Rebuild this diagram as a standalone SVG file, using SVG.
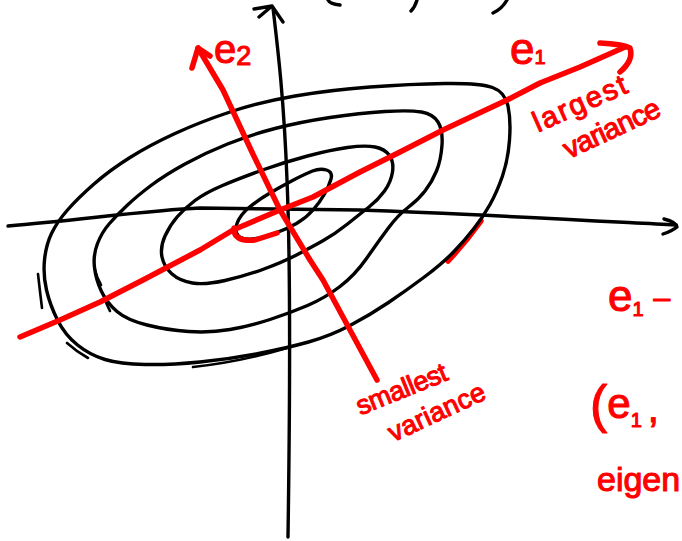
<svg xmlns="http://www.w3.org/2000/svg" width="682" height="541" viewBox="0 0 682 541">
<style>
.ink{fill:none;stroke:#000;stroke-width:3.4;stroke-linecap:round;stroke-linejoin:round}
.thin{fill:none;stroke:#000;stroke-width:2.6;stroke-linecap:round;stroke-linejoin:round}
.red{fill:none;stroke:#ff0000;stroke-width:5.5;stroke-linecap:round;stroke-linejoin:round}
.lbl{fill:#ff0000;stroke:#ff0000;stroke-width:1.1;stroke-linejoin:round;font-family:"Liberation Sans","DejaVu Sans",sans-serif}
</style>
<rect width="682" height="541" fill="#fff"/>
<g id="top-fragments">
<path class="ink" d="M328,0 Q330,4 340,5"/>
<path class="ink" d="M417,0 Q415,7 411,11"/>
<path class="ink" d="M507,0 Q502,9 493,13"/>
</g>
<path id="red-mark" class="red" d="M481,221 Q466,242 448,261"/>
<g id="axes">
<path class="ink" d="M8,226 C80,220 150,210 200,208 L360,210 C450,213 560,219 676,225"/>
<path class="ink" d="M664,219 Q676,222 677,227 Q672,231 663,234"/>
<path class="ink" d="M288,537 C290,400 290,250 287,180 C284,100 278,50 273,8"/>
<path class="ink" d="M259,17 L272,6 L283,22 M254,9 L272,6"/>
</g>
<g id="contours">
<path id="outer" class="ink" d="M230,112 Q260,102 295,96 Q330,90 370,87 Q410,84 445,83.5 Q480,83 492.5,87.5 Q505,92 508,106 Q511,120 509.5,140 Q508,160 502.5,176 Q497,192 490,204.5 Q483,217 474,228.5 Q465,240 454,251.5 Q443,263 425,276.5 Q407,290 388.5,302.5 Q370,315 350,325.5 Q330,336 308.5,342 Q287,348 258.5,353.5 Q230,359 200,362 Q170,365 145,364.5 Q120,364 105,359.5 Q90,355 77.5,345 Q65,335 57.5,320 Q50,305 46.5,290 Q43,275 44.5,260 Q46,245 51.5,233.5 Q57,222 67.5,210 Q78,198 94,184 Q110,170 130,157.5 Q150,145 175,133.5 Q200,122 230,112"/>
<path class="thin" d="M38,274 Q40,292 42,308 M67,343 Q77,352 88,358 M193,367 Q240,362 287,348"/>
<path id="third" class="ink" d="M227.5,144 Q250,135 275,128.5 Q300,122 330,117.5 Q360,113 385,111.5 Q410,110 421.5,112 Q433,114 438,122 Q443,130 442,145 Q441,160 436.5,171 Q432,182 425,191 Q418,200 408,207.5 Q398,215 388,228.5 Q378,242 366.5,258.5 Q355,275 340,286.5 Q325,298 307.5,305.5 Q290,313 270,319.5 Q250,326 230,329.5 Q210,333 188.5,331.5 Q167,330 147,325 Q127,320 117,311.5 Q107,303 101.5,291.5 Q96,280 94.5,267.5 Q93,255 97.5,243.5 Q102,232 109.5,223.5 Q117,215 127,205.5 Q137,196 151,185.5 Q165,175 185,164 Q205,153 227.5,144"/>
<path class="thin" d="M95,270 Q97,278 101,285 M104,296 Q106,304 110,311"/>
<path id="second" class="ink" d="M222.5,185.5 Q240,178 262.5,170 Q285,162 307.5,156 Q330,150 347.5,147.5 Q365,145 375,147 Q385,149 389.5,155.5 Q394,162 392.5,172 Q391,182 384.5,191 Q378,200 369,207 Q360,214 347.5,224 Q335,234 322.5,241 Q310,248 296.5,255 Q283,262 264,269 Q245,276 225,280.5 Q205,285 192.5,283 Q180,281 172,274 Q164,267 162,257 Q160,247 165,236 Q170,225 177.5,216.5 Q185,208 195,200.5 Q205,193 222.5,185.5"/>
<path id="inner" class="ink" d="M237,223.5 Q240,215 249,207.5 Q258,200 270,193 Q282,186 293.5,180 Q305,174 312.5,171 Q320,168 326.5,170 Q333,172 331,179 Q329,186 324.5,194 Q320,202 313,210 Q306,218 296.5,223.5 Q287,229 274.5,233.5 Q262,238 252.5,239 Q243,240 238.5,236 Q234,232 237,223.5"/>
</g>
<g id="e1-axis">
<path class="red" d="M20,337 L60,320 L100,302 L143,280 L200,250 L233,230 L280,210 L313,197 L360,172 L400,152 L443,130 L507,100 L540,83 L580,67 L625,47"/>
<path class="red" d="M600,43 Q622,44 630,48 Q634,60 620,72"/>
<path class="red" d="M234,228 Q233,242 255,240 L277,233"/>
</g>
<g id="e2-axis">
<path class="red" d="M377,380 L350,330 L323,280 L310,260 L280,210 L251,150 L223,90 L198,48"/>
<path class="red" d="M192,68 L198,48 L210,56"/>
</g>
<g id="labels">
<text class="lbl" x="214" y="63" font-size="40">e<tspan font-size="27" dy="2">2</tspan></text>
<text class="lbl" x="510" y="64" font-size="44">e<tspan font-size="20" dy="0">1</tspan></text>
<text class="lbl" font-size="29" text-anchor="middle" textLength="100" transform="translate(580,104) rotate(-24)" x="0" y="9">largest</text>
<text class="lbl" font-size="29" text-anchor="middle" textLength="104" transform="translate(612,129) rotate(-25)" x="0" y="9">variance</text>
<text class="lbl" font-size="27" text-anchor="middle" textLength="96" transform="translate(402,390) rotate(-22)" x="0" y="8">smallest</text>
<text class="lbl" font-size="27" text-anchor="middle" textLength="104" transform="translate(437,413) rotate(-25)" x="0" y="8">variance</text>
<text class="lbl" x="608" y="311" font-size="44">e<tspan font-size="20" dy="5">1</tspan><tspan font-size="30" dx="10" dy="-8">–</tspan></text>
<text class="lbl" x="590" y="422" font-size="52">(<tspan font-size="42" dy="-4">e</tspan><tspan font-size="20" dy="9">1</tspan><tspan font-size="40" dx="6" dy="-5">,</tspan></text>
<text class="lbl" x="597" y="491" font-size="34">eigen</text>
</g>
</svg>
